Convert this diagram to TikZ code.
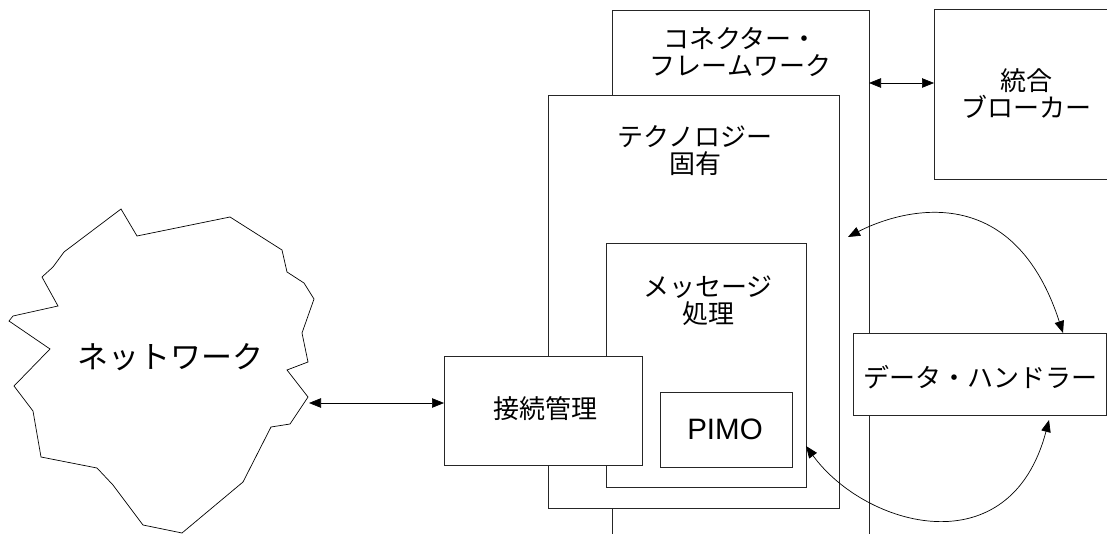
\documentclass[tikz,border=0pt]{standalone}
\usepackage{fontspec}
\setmainfont{Noto Sans CJK JP}
\newfontfamily\latinfont{Liberation Sans}
\usetikzlibrary{arrows.meta}
\begin{document}
\begin{tikzpicture}[x=1pt,y=-1pt,
  box/.style={draw=black!85, line width=0.8pt, fill=white, inner sep=0pt, outer sep=0pt, rectangle},
  lbl/.style={align=center, inner sep=0pt, font=\fontsize{26}{27}\selectfont},
  tip/.tip={Triangle[length=12pt,width=9.5pt]},
  link/.style={line width=0.7pt, {tip}-{tip}}]
\useasboundingbox (0,0) rectangle (1107,534);
\clip (0,0) rectangle (1107,534);
% boxes
\node[box, minimum width=257pt, minimum height=550pt] (fw) at (740.5,285) {};
\node[box, minimum width=196pt, minimum height=170pt] (broker) at (1032,94) {};
\node[box, minimum width=291pt, minimum height=413pt] (tech) at (693.5,301.5) {};
\node[box, minimum width=200pt, minimum height=244pt] (msg) at (706,365) {};
\node[box, minimum width=132pt, minimum height=75pt] (pimo) at (726,429.5) {};
\node[box, minimum width=198pt, minimum height=109pt] (conn) at (543,410.5) {};
\node[box, minimum width=253pt, minimum height=82pt] (dh) at (979.5,374) {};
% labels
\node[lbl] (fwt) at (740.5,52) {コネクター・\\フレームワーク};
\node[lbl] (brokert) at (1026,93.5) {統合\\ブローカー};
\node[lbl] (techt) at (695,150.5) {テクノロジー\\固有};
\node[lbl] (msgt) at (708,300.5) {メッセージ\\処理};
\node[lbl] (connt) at (545,409) {接続管理};
\node[lbl, font=\latinfont\fontsize{29.5}{30}\selectfont] (pimot) at (725,429) {PIMO};
\node[lbl] (dht) at (980,377) {データ・ハンドラー};
% network cloud
\draw[line width=0.7pt, fill=white] (121,209) -- (137,236) -- (230,217) -- (282,250) -- (287,272)
  -- (304,283) -- (314,299) -- (302,333) -- (308,362) -- (287,370) -- (308,397)
  -- (290,424) -- (271,427) -- (243,482) -- (182,533) -- (143,525) -- (113,485)
  -- (97,468) -- (41,457) -- (33,411) -- (14,386) -- (50,349) -- (9,321) -- (13,316)
  -- (58,306) -- (42,277) -- (53,267) -- (64,252) -- cycle;
\node[lbl, font=\fontsize{31}{32}\selectfont] (nett) at (170,357) {ネットワーク};
% connectors
\coordinate (n1) at (309,403);
\draw[link] (n1) -- (n1 -| conn.west);
\coordinate (fb) at (900,83);
\draw[link] (fb -| fw.east) -- (fb -| broker.west);
\coordinate (s1) at (848,237);
\coordinate (e1) at (1063,0);
\draw[link] (s1) .. controls (890,215) and (1010,170) .. (dh.north -| e1);
\coordinate (s2) at (806,446);
\coordinate (e2) at (1049,420);
\draw[link] (s2 -| msg.east) .. controls (865,527) and (1010,568) .. (e2);
\end{tikzpicture}
\end{document}
